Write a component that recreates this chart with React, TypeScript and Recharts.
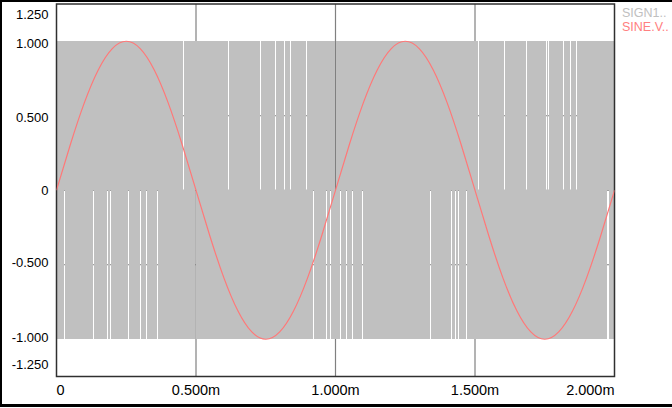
import React from 'react';
import { ComposedChart, Area, Line, XAxis, YAxis, CartesianGrid, ReferenceArea, Legend } from 'recharts';

// ---- axes ----
const xTicksMs = [0, 0.5, 1.0, 1.5, 2.0];
const yTicks = [-1.25, -1, -0.5, 0, 0.5, 1, 1.25];

// ---- SINE.V trace (time in ms, value) ----
const sineTimesMs = [
  0, 0.05, 0.1, 0.15, 0.2, 0.25, 0.3, 0.35, 0.4, 0.45,
  0.5, 0.55, 0.6, 0.65, 0.7, 0.75, 0.8, 0.85, 0.9, 0.95,
  1.0, 1.05, 1.1, 1.15, 1.2, 1.25, 1.3, 1.35, 1.4, 1.45,
  1.5, 1.55, 1.6, 1.65, 1.7, 1.75, 1.8, 1.85, 1.9, 1.95, 2.0,
];
const sineValues = [
  0, 0.309, 0.588, 0.809, 0.951, 1.0, 0.951, 0.809, 0.588, 0.309,
  0, -0.309, -0.588, -0.809, -0.951, -1.0, -0.951, -0.809, -0.588, -0.309,
  0, 0.309, 0.588, 0.809, 0.951, 1.0, 0.951, 0.809, 0.588, 0.309,
  0, -0.309, -0.588, -0.809, -0.951, -1.0, -0.951, -0.809, -0.588, -0.309, 0,
];

// ---- SIGN1 trace: toggles between +1 and -1 every sample;
// listed instants are samples where it does not reach the other level ----
const SAMPLE_MS = 0.0036;
const sign1High = 1;
const sign1Low = -1;
const sign1StuckLowMs = [
  0.4542, 0.6158, 0.7307, 0.7846, 0.8169, 0.8384, 0.8959, 1.0,
  1.5135, 1.6068, 1.6858, 1.7576, 1.7648, 1.8187, 1.8438, 1.8654,
];
const sign1StuckHighMs = [
  0.0269, 0.1311, 0.1813, 0.1921, 0.2567, 0.2998, 0.3214, 0.3609, 0.4973,
  0.921, 0.9677, 0.982, 1.018, 1.0395, 1.061, 1.0969,
  1.3411, 1.4165, 1.4309, 1.4417, 1.4704, 1.9767,
];

const seriesNames = ['SIGN1..', 'SINE.V..'];
const seriesColors: Record<string, string> = { 'SIGN1..': '#c0c0c0', 'SINE.V..': '#ff8080' };

const FONT = '"Liberation Sans", Arial, sans-serif';

const sineData = sineTimesMs.map((t, i) => ({ t, v: sineValues[i] }));

const signData = (() => {
  const ev = [
    ...sign1StuckLowMs.map((c) => ({ c, range: [sign1Low, 0] })),
    ...sign1StuckHighMs.map((c) => ({ c, range: [0, sign1High] })),
  ].sort((a, b) => a.c - b.c);
  const out: { t: number; range: number[] }[] = [{ t: 0, range: [sign1Low, sign1High] }];
  ev.forEach((e) => {
    out.push({ t: e.c - SAMPLE_MS / 2, range: e.range });
    out.push({ t: e.c + SAMPLE_MS / 2, range: [sign1Low, sign1High] });
  });
  out.push({ t: 2, range: [sign1Low, sign1High] });
  return out;
})();

const fmtX = (v: number) => (v === 0 ? '0' : v.toFixed(3) + 'm');
const fmtY = (v: number) => (v === 0 ? '0' : v.toFixed(3));

const YTick = (props: any) => {
  const { x, y, payload } = props;
  let cy = y;
  if (y < 185) cy = y + 2;
  if (y > 195) cy = y - 2;
  cy = Math.max(14.5, Math.min(364.7, cy));
  return (
    <text x={x} y={cy + 4.6} textAnchor="end" fill="#000" fontSize={13} fontFamily={FONT}>
      {fmtY(payload.value)}
    </text>
  );
};

const XTick = (props: any) => {
  const { x, y, payload, index } = props;
  const last = xTicksMs.length - 1;
  const anchor = index === 0 ? 'start' : index === last ? 'end' : 'middle';
  return (
    <text x={x} y={y + 10} textAnchor={anchor} fill="#000" fontSize={14.5} fontFamily={FONT}>
      {fmtX(payload.value)}
    </text>
  );
};

const renderLegend = (props: any) => (
  <div style={{ fontFamily: FONT, fontSize: 12.5, lineHeight: '14px', whiteSpace: 'nowrap' }}>
    {(props.payload || []).map((p: any) => (
      <div key={p.value} style={{ color: seriesColors[p.value] ?? p.color }}>
        {p.value}
      </div>
    ))}
  </div>
);

export default function App() {
  return (
    <div style={{ position: 'absolute', left: 0, top: 0, width: 672, height: 408, background: '#fff' }}>
      <style>{`.recharts-area-area{shape-rendering:crispEdges}`}</style>
      <ComposedChart
        width={672}
        height={408}
        margin={{ top: 4, right: 7.5, bottom: 0, left: 0 }}
      >
        <CartesianGrid
          stroke="#808080"
          strokeWidth={1.2}
          verticalValues={[0.5, 1.0, 1.5]}
          horizontalValues={[0.5, 0, -0.5]}
        />
        <XAxis
          type="number"
          dataKey="t"
          domain={[0, 2]}
          ticks={xTicksMs}
          interval={0}
          allowDataOverflow
          axisLine={false}
          tickLine={false}
          tickSize={0}
          tickMargin={8.5}
          height={31.5}
          tick={<XTick />}
        />
        <YAxis
          type="number"
          domain={[-1.25, 1.25]}
          ticks={yTicks}
          interval={0}
          allowDataOverflow
          axisLine={false}
          tickLine={false}
          tickSize={0}
          tickMargin={8}
          width={56.5}
          tick={<YTick />}
        />
        <Legend
          layout="vertical"
          align="right"
          verticalAlign="top"
          content={renderLegend}
          wrapperStyle={{ top: 6, left: 622, right: 'auto', width: 50, margin: 0, padding: 0 }}
        />
        <Area
          data={signData}
          dataKey="range"
          name={seriesNames[0]}
          type="stepAfter"
          fill="#c0c0c0"
          fillOpacity={1}
          stroke="none"
          dot={false}
          activeDot={false}
          isAnimationActive={false}
        />
        <Line
          data={sineData}
          dataKey="v"
          name={seriesNames[1]}
          type="natural"
          stroke="#ff7878"
          strokeWidth={1.2}
          dot={false}
          activeDot={false}
          isAnimationActive={false}
        />
        <ReferenceArea
          x1={0}
          x2={2}
          y1={-1.25}
          y2={1.25}
          fill="none"
          stroke="#303030"
          strokeWidth={1.5}
          ifOverflow="visible"
        />
      </ComposedChart>
      <div
        style={{
          position: 'absolute',
          left: 0,
          top: 0,
          width: 672,
          height: 407,
          boxSizing: 'border-box',
          borderTop: '2px solid #000',
          borderLeft: '2px solid #000',
          borderBottom: '3px solid #000',
          pointerEvents: 'none',
        }}
      />
    </div>
  );
}
